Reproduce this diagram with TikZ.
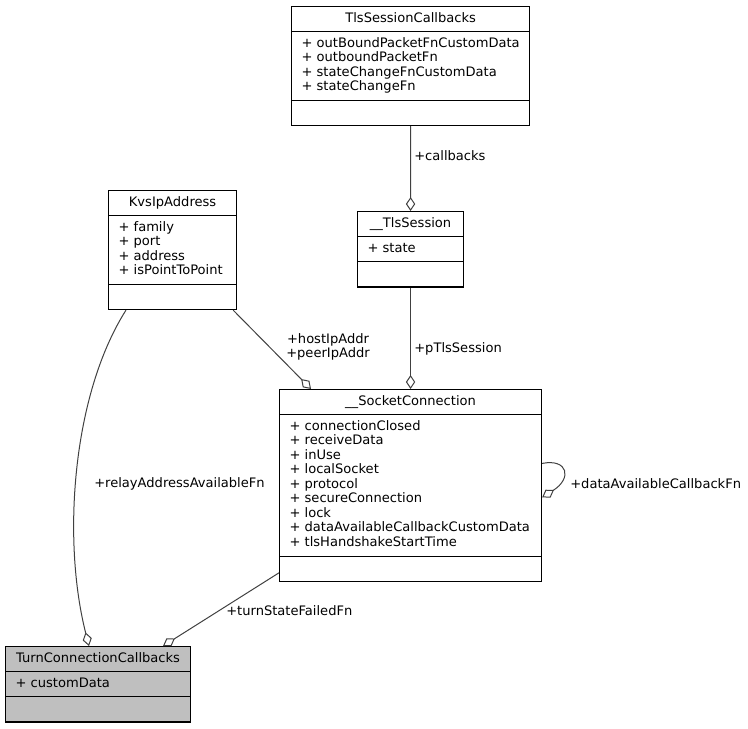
\documentclass[tikz,border=0pt]{standalone}
\usepackage{fontspec}
\setmainfont{DejaVu Sans}
\usetikzlibrary{arrows.meta, shapes.multipart, calc}

\begin{document}
\begin{tikzpicture}[
  x=0.75pt, y=-0.75pt,
  cls/.style={draw=black, line width=0.85pt, anchor=north west,
              rectangle split, rectangle split parts=3,
              rectangle split part align={center,left,left},
              rectangle split empty part height=7.6pt,
              rectangle split empty part depth=3.3pt,
              align=left, inner xsep=7.5pt, inner ysep=3.55pt,
              font=\fontsize{9.8}{10.9}\selectfont},
  agg/.style={{Diamond[open, length=10.5pt, width=7pt]}-, draw=black!75, line width=0.75pt},
  lbl/.style={anchor=west, inner sep=0pt, align=left,
              font=\fontsize{9.8}{10.9}\selectfont},
]
\useasboundingbox (0,0) rectangle (748,728);

% classes
\node[cls, minimum width=178.5pt] (cb) at (291,6)
  {\strut TlsSessionCallbacks
   \nodepart{two}\strut + outBoundPacketFnCustomData\\+ outboundPacketFn\\+ stateChangeFnCustomData\\+ stateChangeFn\strut
   \nodepart{three}};
\node[cls, minimum width=96pt] (kvs) at (108,190)
  {\strut KvsIpAddress
   \nodepart{two}\strut + family\\+ port\\+ address\\+ isPointToPoint\strut
   \nodepart{three}};
\node[cls, minimum width=79.5pt] (tls) at (357,211)
  {\strut \_\_TlsSession
   \nodepart{two}\strut + state
   \nodepart{three}};
\node[cls, minimum width=196.5pt] (sock) at (279,389)
  {\strut \_\_SocketConnection
   \nodepart{two}\strut + connectionClosed\\+ receiveData\\+ inUse\\+ localSocket\\+ protocol\\+ secureConnection\\+ lock\\+ dataAvailableCallbackCustomData\\+ tlsHandshakeStartTime\strut
   \nodepart{three}};
\node[cls, minimum width=138.75pt, fill=gray!50] (turn) at (5,646)
  {\strut TurnConnectionCallbacks
   \nodepart{two}\strut + customData
   \nodepart{three}};

% members
\draw[agg] (tls.north) -- (cb.south);
\draw[agg] (sock.north) -- (tls.south);
\draw[agg] ($(sock.north west)+(32,0)$) -- ($(kvs.south east)+(-4,0)$);
\draw[agg] ($(turn.north west)+(84,0)$) .. controls +(-27,-106) and +(-54,85) .. ($(kvs.south west)+(18,0)$);
\draw[agg] ($(turn.north west)+(158,0)$) -- ($(sock.south west)+(0,-9)$);
\draw[agg] ([yshift=-9pt]sock.east) .. controls +(30,-19) and +(26,-5) .. ([yshift=16.5pt]sock.east);

\node[lbl] (lcb)   at (414,156) {+callbacks};
\node[lbl] (ltls)  at (414,349) {+pTlsSession};
\node[lbl, anchor=center, align=center] (lkvs) at (328,347) {+hostIpAddr\\+peerIpAddr};
\node[lbl] (lrel)  at (94,484)  {+relayAddressAvailableFn};
\node[lbl] (lfail) at (226,611) {+turnStateFailedFn};
\node[lbl] (ldata) at (570,484) {+dataAvailableCallbackFn};
\end{tikzpicture}
\end{document}
